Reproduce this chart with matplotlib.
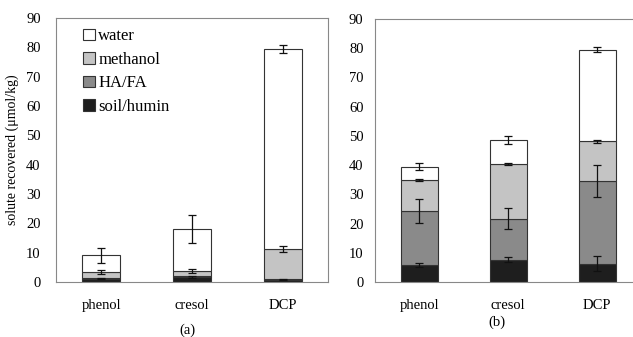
import numpy as np
import matplotlib.pyplot as plt

plt.rcParams['font.family'] = ['Liberation Serif', 'DejaVu Serif']

solutes = ['phenol', 'cresol', 'DCP']
fractions = ['soil/humin', 'HA/FA', 'methanol', 'water']
colors = ['#1e1e1e', '#8a8a8a', '#c4c4c4', '#ffffff']

# panel (a): amounts per fraction (stacked bottom -> top)
a_soil = [1.1, 1.7, 0.8]
a_hafa = [0.3, 0.3, 0.2]
a_meth = [2.0, 1.8, 10.4]
a_water = [5.7, 14.2, 68.0]
a_err_soil = [0.2, 0.2, 0.2]
a_err_hafa = [0.0, 0.0, 0.0]
a_err_meth = [0.6, 0.7, 1.0]
a_err_water = [2.5, 4.8, 1.3]

# panel (b)
b_soil = [5.9, 7.7, 6.3]
b_hafa = [18.4, 14.0, 28.3]
b_meth = [10.7, 18.7, 13.5]
b_water = [4.5, 8.2, 31.4]
b_err_soil = [0.7, 0.8, 2.5]
b_err_hafa = [4.0, 3.7, 5.6]
b_err_meth = [0.4, 0.4, 0.4]
b_err_water = [1.3, 1.4, 0.9]


def stacked(ax, layers, errs, ypad):
    x = np.arange(len(solutes))
    bottom = np.zeros(len(solutes))
    for vals, err, col, lab in zip(layers, errs, colors, fractions):
        vals = np.array(vals)
        ax.bar(x, vals, 0.42, bottom=bottom, color=col, edgecolor='#333333',
               linewidth=0.8, label=lab)
        top = bottom + vals
        e = np.array(err)
        m = e > 0
        ax.errorbar(x[m], top[m], yerr=e[m], fmt='none', ecolor='#111111',
                    elinewidth=0.9, capsize=3, capthick=0.9)
        bottom = top
    ax.set_xticks(x)
    ax.set_xticklabels(solutes, fontsize=10.5)
    ax.set_xlim(-0.5, 2.5)
    ax.set_ylim(0, 90)
    ax.set_yticks(range(0, 91, 10))
    ax.tick_params(length=0)
    ax.tick_params(axis='y', labelsize=10.5, pad=ypad)
    ax.tick_params(axis='x', pad=12)
    for s in ax.spines.values():
        s.set_color('#888888')
        s.set_linewidth(0.8)


fig = plt.figure(figsize=(6.33, 3.37), dpi=100)
ax1 = fig.add_axes([0.0885, 0.163, 0.43, 0.784])
ax2 = fig.add_axes([0.592, 0.163, 0.422, 0.781])

stacked(ax1, [a_soil, a_hafa, a_meth, a_water],
        [a_err_soil, a_err_hafa, a_err_meth, a_err_water], 11)
stacked(ax2, [b_soil, b_hafa, b_meth, b_water],
        [b_err_soil, b_err_hafa, b_err_meth, b_err_water], 8)

ax1.set_ylabel('solute recovered (\u03bcmol/kg)', fontsize=10, labelpad=5)
h, l = ax1.get_legend_handles_labels()
ax1.legend(h[::-1], l[::-1], loc='upper left', frameon=False, fontsize=12,
           handlelength=0.7, handleheight=0.7, handletextpad=0.2,
           labelspacing=0.45, borderaxespad=0, bbox_to_anchor=(0.075, 0.985))

fig.text(187 / 633, 1 - 330 / 337, '(a)', ha='center', va='center', fontsize=10.5)
fig.text(497 / 633, 1 - 322 / 337, '(b)', ha='center', va='center', fontsize=10.5)

fig.savefig('out.png', dpi=100)
